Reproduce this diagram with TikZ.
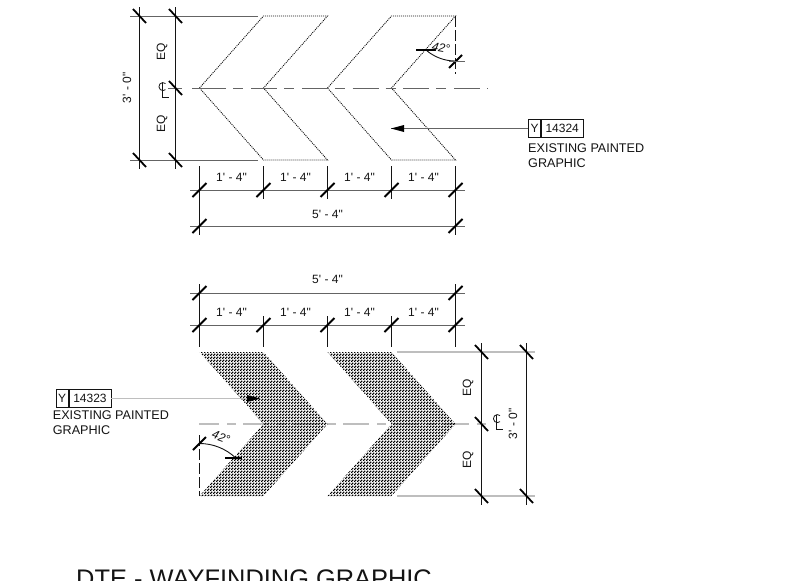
\documentclass[tikz,border=0pt]{standalone}
\usepackage{fontspec}
\setmainfont{Liberation Sans}[Ligatures=TeXOff]
\usetikzlibrary{patterns}
\pgfdeclarepatternformonly{chk}{\pgfqpoint{0pt}{0pt}}{\pgfqpoint{3pt}{3pt}}{\pgfqpoint{3pt}{3pt}}{
  \pgfpathrectangle{\pgfqpoint{0pt}{0pt}}{\pgfqpoint{1.8pt}{1.8pt}}
  \pgfpathrectangle{\pgfqpoint{1.5pt}{1.5pt}}{\pgfqpoint{1.8pt}{1.8pt}}
  \pgfusepath{fill}}
\definecolor{ink}{RGB}{20,20,20}
\definecolor{ext}{RGB}{100,100,100}
\definecolor{lightext}{RGB}{190,190,190}
\tikzset{
  x=1pt,y=-1pt,
  dimline/.style={draw=ink,line width=0.8pt},
  extline/.style={draw=ext,line width=0.7pt},
  lightline/.style={draw=lightext,line width=1.4pt},
  tick/.style={draw=black,line width=1.8pt},
  centre/.style={draw=ext,line width=0.7pt,dash pattern=on 26pt off 7pt on 10pt off 7.75pt,dash phase=42.45pt},
  centrelight/.style={draw=lightext,line width=1.4pt,dash pattern=on 26pt off 8pt on 9pt off 7pt,dash phase=6pt},
  outline/.style={draw=ink,line width=0.9pt,dash pattern=on 1pt off 1pt},
  solidchev/.style={pattern=chk,pattern color=black,draw=none},
  lab/.style={font=\fontsize{12}{12}\selectfont,text=ink,inner sep=0pt},
  anglab/.style={font=\itshape\fontsize{12}{12}\selectfont,text=ink,inner sep=0pt},
  note/.style={font=\fontsize{12.6}{14.5}\selectfont,text=ink,inner sep=0pt,align=left},
  keybox/.style={draw=ink,line width=0.6pt,inner sep=0pt,minimum height=18.5pt,font=\fontsize{12}{12}\selectfont,text=ink},
}
\newcommand{\fwd}[2]{\draw[tick] (#1-7,#2+7) -- (#1+7,#2-7);}
\newcommand{\bwd}[2]{\draw[tick] (#1-6.5,#2-7) -- (#1+6.5,#2+7);}
\newcommand{\clmark}[2]{%
  \draw[ink,line width=0.8pt] (#1+3,#2-6.5) arc[start angle=50,end angle=310,radius=4pt];
  \draw[ink,line width=0.8pt] (#1-0.5,#2-7) -- (#1-0.5,#2+7) -- (#1+6,#2+7);}
\begin{document}
\begin{tikzpicture}
\useasboundingbox (0,0) rectangle (785,581);
\clip (0,0) rectangle (785,581);
\fill[white] (0,0) rectangle (785,581);

% ---- top graphic
\draw[outline] (199.5,88) -- (263.5,16) -- (327.5,16) -- (263.5,88) -- (327.5,160) -- (263.5,160) -- cycle;
\draw[outline] (327.5,88) -- (391.5,16) -- (455.5,16) -- (391.5,88) -- (455.5,160) -- (391.5,160) -- cycle;
\draw[centre] (192,88) -- (488,88);
\draw[extline] (192,88) -- (201,88);
\draw[extline] (168,88) -- (182,88);
\draw[extline] (130,16) -- (258,16);
\draw[extline] (130,160) -- (258,160);
\draw[dimline] (139.5,7) -- (139.5,169);
\draw[dimline] (175.5,7) -- (175.5,169);
\bwd{139.5}{16}\bwd{175.5}{16}\bwd{175.5}{88}\bwd{139.5}{160}\bwd{175.5}{160}
\node[lab,rotate=90] (t30) at (127,88) {3' - 0"};
\node[lab,rotate=90] (teq1) at (162,52) {EQ};
\node[lab,rotate=90] (teq2) at (162,124) {EQ};
\clmark{162.5}{90}

\draw[extline] (190,190) -- (465,190);
\draw[extline] (190,226) -- (465,226);
\draw[dimline] (199.5,166) -- (199.5,235);
\draw[dimline] (263.5,166) -- (263.5,199);
\draw[dimline] (327.5,166) -- (327.5,199);
\draw[dimline] (391.5,166) -- (391.5,199);
\draw[dimline] (455.5,166) -- (455.5,235);
\fwd{199.5}{190}\fwd{263.5}{190}\fwd{327.5}{190}\fwd{391.5}{190}\fwd{455.5}{190}
\fwd{199.5}{226}\fwd{455.5}{226}
\node[lab] (ta) at (231.5,177) {1' - 4"};
\node[lab] (tb) at (295.5,177) {1' - 4"};
\node[lab] (tc) at (359.5,177) {1' - 4"};
\node[lab] (td) at (423.5,177) {1' - 4"};
\node[lab] (te) at (327.5,214) {5' - 4"};

% top angle
\draw[ink,line width=0.8pt,dash pattern=on 11pt off 3pt] (455.5,16) -- (455.5,74);
\draw[ink,line width=0.9pt] (426,50) arc[start angle=229,end angle=270,radius=45pt];
\draw[tick] (416,50) -- (436,50);
\draw[tick] (449,68) -- (462,55);
\draw[extline] (449,61) -- (465,61);
\node[anglab,rotate=-10] (tang) at (441,48) {42°};

% top callout
\node[keybox,minimum width=12pt,anchor=west] (ky) at (528.3,128.5) {Y};
\node[keybox,minimum width=42pt,anchor=west] (kn) at (ky.east) {14324};
\coordinate (ptop) at (391,128.5);
\draw[extline] (ky.west) -- (ptop);
\fill[black] (ptop) -- (404,125) -- (404,132) -- cycle;
\node[note,anchor=north west] (tn1) at (528,143.5) {EXISTING PAINTED\\GRAPHIC};

% ---- bottom graphic
\draw[extline] (190,293) -- (465,293);
\draw[extline] (190,325) -- (465,325);
\draw[dimline] (199.5,284) -- (199.5,347);
\draw[dimline] (263.5,316) -- (263.5,347);
\draw[dimline] (327.5,316) -- (327.5,347);
\draw[dimline] (391.5,316) -- (391.5,347);
\draw[dimline] (455.5,284) -- (455.5,347);
\fwd{199.5}{293}\fwd{455.5}{293}
\fwd{199.5}{325}\fwd{263.5}{325}\fwd{327.5}{325}\fwd{391.5}{325}\fwd{455.5}{325}
\node[lab] (tf) at (327.5,279) {5' - 4"};
\node[lab] (tg) at (231.5,312) {1' - 4"};
\node[lab] (th) at (295.5,312) {1' - 4"};
\node[lab] (ti) at (359.5,312) {1' - 4"};
\node[lab] (tj) at (423.5,312) {1' - 4"};

\draw[lightline] (397,352) -- (535,352);
\draw[lightline] (397,496) -- (535,496);
\draw[centrelight] (199,424) -- (490,424);
\path[solidchev] (199.5,352) -- (263.5,352) -- (327.5,424) -- (263.5,496) -- (199.5,496) -- (263.5,424) -- cycle;
\path[solidchev] (327.5,352) -- (391.5,352) -- (455.5,424) -- (391.5,496) -- (327.5,496) -- (391.5,424) -- cycle;
\draw[dimline] (481.5,343) -- (481.5,505);
\draw[dimline] (526.5,343) -- (526.5,505);
\bwd{481.5}{352}\bwd{526.5}{352}\bwd{481.5}{424}\bwd{481.5}{496}\bwd{526.5}{496}
\node[lab,rotate=90] (beq1) at (468,388) {EQ};
\node[lab,rotate=90] (beq2) at (468,460) {EQ};
\clmark{497}{422}
\node[lab,rotate=90] (b30) at (513,424) {3' - 0"};

% bottom angle
\draw[ink,line width=0.8pt,dash pattern=on 11pt off 3pt] (199.5,435) -- (199.5,496);
\draw[ink,line width=0.9pt] (199.5,443.5) arc[start angle=90,end angle=47,radius=52.5pt];
\draw[tick] (193,450) -- (206,437);
\draw[tick] (225,458) -- (242,458);
\node[anglab,rotate=-20] (bang) at (221,437) {42°};

% bottom callout
\node[keybox,minimum width=12.5pt,anchor=west] (bky) at (55.7,398.5) {Y};
\node[keybox,minimum width=41.7pt,anchor=west] (bkn) at (bky.east) {14323};
\coordinate (pbot) at (260,398.5);
\draw[draw=lightext,line width=0.8pt] (bkn.east) -- (247,398.5);
\fill[black] (pbot) -- (247,395) -- (247,402) -- cycle;
\node[note,anchor=north west] (bn1) at (52.7,410.5) {EXISTING PAINTED\\GRAPHIC};

% title
\node[anchor=base west,inner sep=0pt,text=ink,font=\fontsize{25.4}{26}\selectfont] (title) at (76,587) {DTE - WAYFINDING GRAPHIC};
\end{tikzpicture}
\end{document}
